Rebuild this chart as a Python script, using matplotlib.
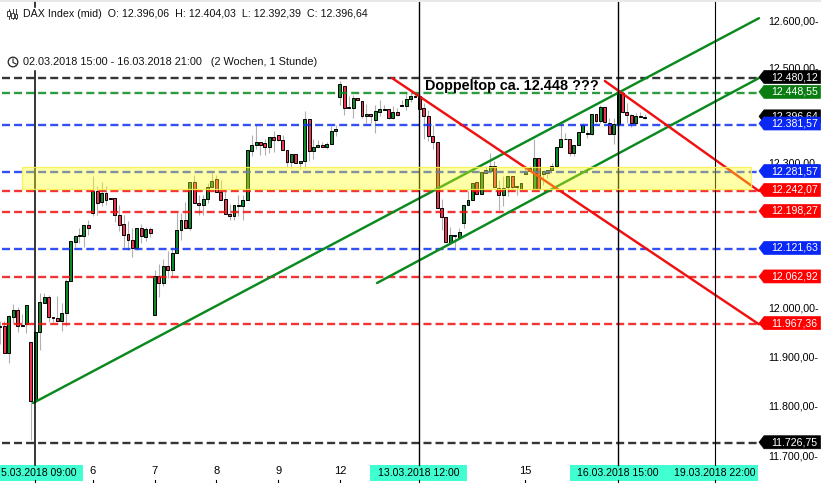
import numpy as np
import matplotlib
matplotlib.use("Agg")
import matplotlib.pyplot as plt
from matplotlib.patches import Polygon, Rectangle, Circle

ohlc_rows = """
11964 11974 11926 11962
11963 11973 11909 11909
11909 11985 11889 11983
11982 12008 11967 11997
11997 12003 11952 11964
11966 11989 11964 11964
11967 12007 11950 12007
11930 11930 11733 11811
11813 11952 11813 11952
11952 12032 11915 12013
12011 12032 12011 12022
12022 12026 11971 11982
11981 11981 11971 11979
11979 12024 11974 11974
11974 12011 11954 11991
11991 12059 11964 12056
12056 12138 12056 12138
12136 12150 12126 12148
12150 12164 12134 12148
12149 12171 12126 12171
12171 12182 12150 12166
12197 12274 12189 12243
12243 12253 12192 12217
12219 12261 12210 12238
12238 12252 12213 12224
12227 12227 12225 12225
12227 12227 12178 12191
12192 12212 12159 12172
12173 12192 12126 12151
12152 12180 12119 12141
12141 12164 12105 12124
12124 12164 12119 12164
12164 12174 12133 12149
12147 12167 12139 12162
12162 12167 12146 12155
11986 12079 11986 12066
12066 12090 12022 12051
12051 12100 12045 12087
12087 12117 12062 12079
12078 12124 12066 12113
12113 12196 12113 12160
12160 12196 12140 12181
12181 12220 12164 12164
12164 12261 12161 12261
12261 12276 12217 12217
12217 12234 12191 12212
12212 12234 12191 12225
12225 12259 12217 12251
12251 12280 12251 12263
12267 12276 12240 12240
12240 12266 12224 12224
12225 12241 12194 12194
12194 12215 12182 12189
12189 12213 12182 12213
12212 12234 12189 12210
12210 12234 12181 12223
12223 12327 12223 12327
12326 12360 12315 12339
12338 12381 12329 12345
12345 12345 12318 12338
12342 12350 12318 12334
12334 12356 12322 12356
12356 12367 12324 12349
12360 12360 12346 12349
12349 12360 12328 12328
12328 12328 12292 12302
12302 12320 12290 12320
12320 12320 12300 12300
12300 12304 12289 12304
12304 12411 12290 12393
12393 12393 12304 12325
12325 12350 12308 12335
12334 12349 12334 12339
12339 12345 12334 12334
12334 12345 12330 12341
12341 12378 12341 12368
12367 12381 12358 12372
12439 12474 12422 12467
12464 12464 12401 12416
12419 12442 12417 12417
12416 12444 12395 12437
12437 12437 12433 12433
12431 12431 12395 12399
12399 12424 12385 12404
12404 12404 12385 12399
12391 12422 12363 12411
12409 12433 12399 12414
12415 12422 12413 12413
12414 12414 12393 12395
12395 12420 12393 12408
12408 12416 12399 12401
12423 12434 12421 12421
12420 12451 12413 12435
12435 12448 12430 12441
12442 12448 12440 12440
12441 12448 12415 12415
12416 12427 12350 12399
12399 12413 12346 12358
12358 12381 12330 12345
12345 12345 12206 12206
12206 12225 12161 12188
12188 12188 12136 12136
12136 12168 12136 12150
12150 12150 12119 12148
12147 12164 12143 12157
12176 12213 12166 12213
12212 12241 12212 12224
12223 12259 12223 12259
12261 12261 12236 12236
12236 12282 12236 12282
12280 12295 12280 12286
12283 12321 12283 12294
12294 12305 12251 12251
12248 12266 12203 12234
12234 12274 12210 12248
12251 12274 12231 12274
12274 12274 12241 12251
12252 12252 12234 12250
12247 12258 12247 12258
12277 12294 12277 12282
12290 12294 12283 12283
12247 12350 12247 12311
12311 12311 12247 12247
12278 12283 12255 12283
12280 12285 12270 12285
12286 12301 12286 12295
12294 12335 12294 12335
12335 12381 12335 12350
12352 12364 12350 12350
12351 12351 12315 12321
12321 12339 12315 12339
12339 12366 12339 12366
12365 12384 12365 12381
12361 12370 12353 12363
12362 12404 12360 12404
12404 12404 12385 12388
12388 12423 12385 12419
12419 12419 12385 12386
12385 12395 12361 12361
12361 12395 12340 12383
12383 12448 12383 12448
12448 12448 12406 12407
12407 12427 12385 12401
12401 12404 12376 12384
12384 12405 12380 12400
12399 12409 12397 12397
12396.06 12404.03 12392.39 12396.64
"""
ohlc = np.array([[float(v) for v in r.split()] for r in ohlc_rows.strip().splitlines()])
opens, highs, lows, closes = ohlc.T

level_values = [12480.12, 12448.55, 12381.57, 12281.57, 12242.07, 12198.27,
                12121.63, 12062.92, 11967.36, 11726.75]
level_colors = ['#111111', '#0a8a1e', '#1030f0', '#1030f0', '#f01010', '#f01010',
                '#1030f0', '#f01010', '#f01010', '#111111']
level_labels = ['12.480,12', '12.448,55', '12.381,57', '12.281,57', '12.242,07', '12.198,27',
                '12.121,63', '12.062,92', '11.967,36', '11.726,75']
last_close_label = '12.396,64'
axis_prices = [12600, 12500, 12300, 12000, 11900, 11800, 11700]
axis_labels = ['12.600,00', '12.500,00', '12.300,00', '12.000,00', '11.900,00', '11.800,00', '11.700,00']

# trend lines: (candle index, price) pairs
green_long = ([7.5, 171.9], [11807.5, 12608])
green_short = ([85.4, 171.9], [12051.5, 12480])
red_long = ([88.8, 171.9], [12480, 11967])
red_short = ([137.0, 171.9], [12473.7, 12242])
zone_idx = (5.0, 170.1)
zone_price = (12247.0, 12291.6)

vline_idx = [8, 95, 140, 162]
day_idx = [21, 35, 49, 63, 77, 119]
day_labels = ['6', '7', '8', '9', '12', '15']
date_boxes = [('5.03.2018 09:00', 0, 83, 39), ('13.03.2018 12:00', 370, 467, 419),
              ('16.03.2018 15:00', 570, 665, 618), ('19.03.2018 22:00', 665, 758, 715)]

W, H = 821, 483
PX = 4.415
fig = plt.figure(figsize=(W/100, H/100), dpi=100, facecolor='white')
ax = fig.add_axes([0, 0, 1, 1])
ax.set_yscale('log')
ax.set_xlim(0, W/PX)
ax.set_ylim(12480.12*np.exp(-(H-78)/5866), 12480.12*np.exp(78/5866))
ax.axis('off')

ov = fig.add_axes([0, 0, 1, 1], facecolor='none')
ov.set_xlim(0, W); ov.set_ylim(H, 0); ov.axis('off')
ov.set_zorder(5)

def y_of(price):
    return 78 + 5866*np.log(12480.12/price)

FONT = 'Liberation Sans'
x = np.arange(len(opens))
up = closes >= opens
ax.vlines(x, lows, highs, color='#b0b0b0', lw=0.8, zorder=2)
ax.bar(x, np.abs(closes-opens), bottom=np.minimum(opens, closes), width=0.66,
       color=np.where(up, '#0a8a2a', '#ee3350'), edgecolor='black', linewidth=0.7, zorder=3)

for v, c in zip(level_values, level_colors):
    ax.plot([2/PX, 757/PX], [v, v], color=c, lw=1.7, ls=(0, (3.4, 1.7)), zorder=4, alpha=0.85,
            dash_capstyle='butt')

for (xs, ys), c in [(green_long, '#0a8a1e'), (green_short, '#0a8a1e'), (red_long, '#f01010'), (red_short, '#f01010')]:
    ax.plot(xs, ys, color=c, lw=1.75, zorder=5, solid_capstyle='round')

# vertical markers
ov.plot([35.3, 35.3], [71, 465], color='black', lw=1.1)
ov.plot([35.3, 35.3], [2, 7], color='black', lw=1.1)
for i, lw in zip(vline_idx[1:], [1.0, 1.0, 0.8]):
    ov.plot([i*PX, i*PX], [2, 465], color='black', lw=lw)

# yellow zone on top of the chart
ov.add_patch(Rectangle((zone_idx[0]*PX, y_of(zone_price[1])), (zone_idx[1]-zone_idx[0])*PX,
                       y_of(zone_price[0])-y_of(zone_price[1]),
                       facecolor=(1, 1, 0.1, 0.38), edgecolor=(0.97, 0.95, 0.3, 0.9), lw=0.9, zorder=6))

ov.plot([0, W], [0.8, 0.8], color='#e4e4e4', lw=1.2)

# right axis
for p, t in zip(axis_prices, axis_labels):
    ov.text(768, y_of(p), t + '-', fontsize=7.7, family=FONT, va='center', ha='left', color='black', zorder=7)

def tag(price, text, color, z):
    y = y_of(price) - 1
    ov.add_patch(Polygon([(759, y), (764, y-6.5), (820.5, y-6.5), (820.5, y+6.5), (764, y+6.5)],
                         closed=True, facecolor=color, edgecolor=color, lw=0.5, zorder=z))
    ov.text(771, y, text, fontsize=7.6, family=FONT, color='white', va='center', ha='left', zorder=z)

tag(closes[-1], last_close_label, '#000000', 8)
for v, c, t in zip(level_values, level_colors, level_labels):
    col = {'#111111': '#000000', '#0a8a1e': '#0a7d12', '#1030f0': '#0a28f5', '#f01010': '#ff0000'}[c]
    tag(v, t, col, 9)

# bottom axis
for text, x0, x1, xc in date_boxes:
    ov.add_patch(Rectangle((x0, 465), x1-x0, 16, facecolor='#40ffd0', edgecolor='none', zorder=1))
    ov.text(xc, 473, text, fontsize=7.6, family=FONT, ha='center', va='center', color='black', zorder=3)
for i, t in zip(day_idx, day_labels):
    ov.text(i*PX, 471, t, fontsize=8, family=FONT, ha='center', va='center', color='black')
    ov.plot([i*PX, i*PX], [480, 483], color='black', lw=0.8)
for i in vline_idx:
    ov.plot([i*PX, i*PX], [480, 483], color='black', lw=0.8)

# header
ov.text(23, 14, 'DAX Index (mid)  O: 12.396,06  H: 12.404,03  L: 12.392,39  C: 12.396,64',
        fontsize=7.68, family=FONT, va='center', ha='left', color='#111111')
ov.text(23, 62, '02.03.2018 15:00 - 16.03.2018 21:00   (2 Wochen, 1 Stunde)',
        fontsize=7.8, family=FONT, va='center', ha='left', color='#111111')
for xi, y0, y1, b0, b1 in [(8.5, 9, 19, 11, 16), (12.5, 9, 19, 13, 18), (16, 9, 19, 14, 18)]:
    ov.plot([xi, xi], [y0, y1], color='#222222', lw=0.6)
    ov.add_patch(Rectangle((xi-1.2, b0), 2.4, b1-b0, facecolor='white', edgecolor='#222222', lw=0.6, zorder=3))
ov.add_patch(Circle((13, 62), 4.8, facecolor='white', edgecolor='#222222', lw=0.9))
ov.plot([13, 13, 16], [59, 62.5, 64], color='#222222', lw=0.8)

ov.text(425, 86, 'Doppeltop ca. 12.448 ???', fontsize=10.4, family=FONT, fontweight='bold',
        va='center', ha='left', color='black', zorder=7)

fig.savefig('out.png', dpi=100, facecolor='white')
